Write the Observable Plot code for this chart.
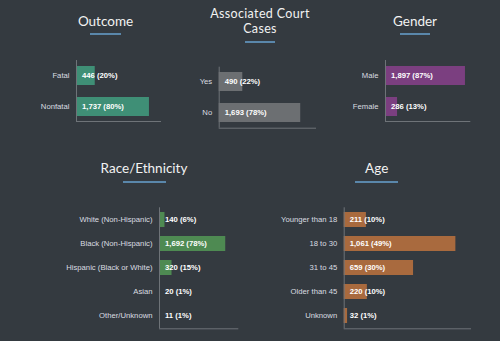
<!DOCTYPE html>
<html>
<head>
<meta charset="utf-8">
<script src="https://cdn.jsdelivr.net/npm/d3@7"></script>
<script src="https://cdn.jsdelivr.net/npm/@observablehq/plot@0.6"></script>
<style>
  html, body { margin: 0; padding: 0; background: #343a40; }
  #root { position: relative; width: 500px; height: 341px; background: #343a40; overflow: hidden; }
  .title { position: absolute; width: 200px; text-align: center; font-family: Lato, "Open Sans", sans-serif; font-size: 13.5px; line-height: 16.2px; color: #f2f2f2; white-space: nowrap; }
  .uline { position: absolute; height: 2px; background: #5a87ab; }
  .chart { position: absolute; }
</style>
</head>
<body>
<div id="root"></div>
<script>
// ---- data ----
const outcomeCats = ["Fatal", "Nonfatal"];
const outcomeVals = [446, 1737];
const outcomePct = [20, 80];

const courtCats = ["Yes", "No"];
const courtVals = [490, 1693];
const courtPct = [22, 78];

const genderCats = ["Male", "Female"];
const genderVals = [1897, 286];
const genderPct = [87, 13];

const raceCats = ["White (Non-Hispanic)", "Black (Non-Hispanic)", "Hispanic (Black or White)", "Asian", "Other/Unknown"];
const raceVals = [140, 1692, 320, 20, 11];
const racePct = [6, 78, 15, 1, 1];

const ageCats = ["Younger than 18", "18 to 30", "31 to 45", "Older than 45", "Unknown"];
const ageVals = [211, 1061, 659, 220, 32];
const agePct = [10, 49, 30, 10, 1];

// ---- layout / style ----
const root = document.getElementById("root");
const axisColor = "#6e7378";
const labelColor = "#dadde0";
const labelFont = "'Liberation Sans', Arial, Helvetica, sans-serif";
const fmt = d3.format(",");

function addTitle(text, cx, top, lh, fs, ls) {
  const d = document.createElement("div");
  d.className = "title";
  d.style.left = (cx - 100) + "px";
  d.style.top = top + "px";
  if (lh) d.style.lineHeight = lh + "px";
  if (fs) d.style.fontSize = fs + "px";
  if (ls) d.style.letterSpacing = ls + "px";
  d.textContent = text;
  root.appendChild(d);
}
function addLine(x1, x2, top) {
  const d = document.createElement("div");
  d.className = "uline";
  d.style.left = x1 + "px";
  d.style.width = (x2 - x1) + "px";
  d.style.top = top + "px";
  root.appendChild(d);
}

function barChart(cats, vals, pct, o) {
  const data = cats.map((c, i) => ({cat: c, value: vals[i], pct: pct[i]}));
  const svg = Plot.plot({
    width: o.width, height: o.height,
    marginLeft: o.ml, marginRight: o.mr, marginTop: o.mt, marginBottom: o.mb,
    style: {background: "transparent", color: labelColor, fontFamily: labelFont, fontSize: "7.7px", overflow: "visible"},
    x: {domain: [0, o.max], axis: null},
    y: {domain: cats, paddingInner: 0.39, paddingOuter: 0.175},
    marks: [
      Plot.barX(data, {x: "value", y: "cat", fill: o.color}),
      Plot.axisY({tickSize: 0, tickPadding: 7, label: null, fontSize: 7.7, fontFamily: labelFont, fill: labelColor}),
      Plot.ruleX([0], {stroke: axisColor}),
      Plot.frame({anchor: "bottom", stroke: axisColor}),
      Plot.text(data, {x: 0, y: "cat", text: d => `${fmt(d.value)} (${d.pct}%)`, textAnchor: "start", dx: 5.5,
        fill: "#ffffff", fontWeight: "bold", fontSize: 7.7, fontFamily: labelFont})
    ]
  });
  const wrap = document.createElement("div");
  wrap.className = "chart";
  wrap.style.left = o.left + "px";
  wrap.style.top = o.top + "px";
  wrap.appendChild(svg);
  root.appendChild(wrap);
}

// titles
addTitle("Outcome", 105.5, 13);
addLine(90, 121, 33.3);
addTitle("Associated Court", 260, 5.8, 15, 12.5, 0.35);
addTitle("Cases", 260, 21.1, 15, 12.5, 0.35);
addLine(245, 275.3, 40.7);
addTitle("Gender", 415, 13);
addLine(400, 430, 33.3);
addTitle("Race/Ethnicity", 144, 159.5);
addLine(123, 165.7, 181);
addTitle("Age", 376.7, 159.5);
addLine(355, 398, 181);

// charts
barChart(outcomeCats, outcomeVals, outcomePct, {left: 0, top: 55, width: 170, height: 72, ml: 76, mr: 10, mt: 5, mb: 6, max: 2000, color: "#3f8f76"});
barChart(courtCats, courtVals, courtPct, {left: 170, top: 62, width: 160, height: 72, ml: 48.7, mr: 15, mt: 4.7, mb: 6.3, max: 2000, color: "#6c6f72"});
barChart(genderCats, genderVals, genderPct, {left: 330, top: 55, width: 170, height: 72, ml: 55, mr: 30.7, mt: 5, mb: 6, max: 2000, color: "#7b3f80"});
barChart(raceCats, raceVals, racePct, {left: 0, top: 200, width: 250, height: 135, ml: 159, mr: 12.7, mt: 7.3, mb: 6.7, max: 2000, color: "#4e8a52"});
barChart(ageCats, ageVals, agePct, {left: 250, top: 200, width: 250, height: 135, ml: 93.7, mr: 30, mt: 7.3, mb: 6.7, max: 1200, color: "#a96a3e"});
</script>
</body>
</html>
